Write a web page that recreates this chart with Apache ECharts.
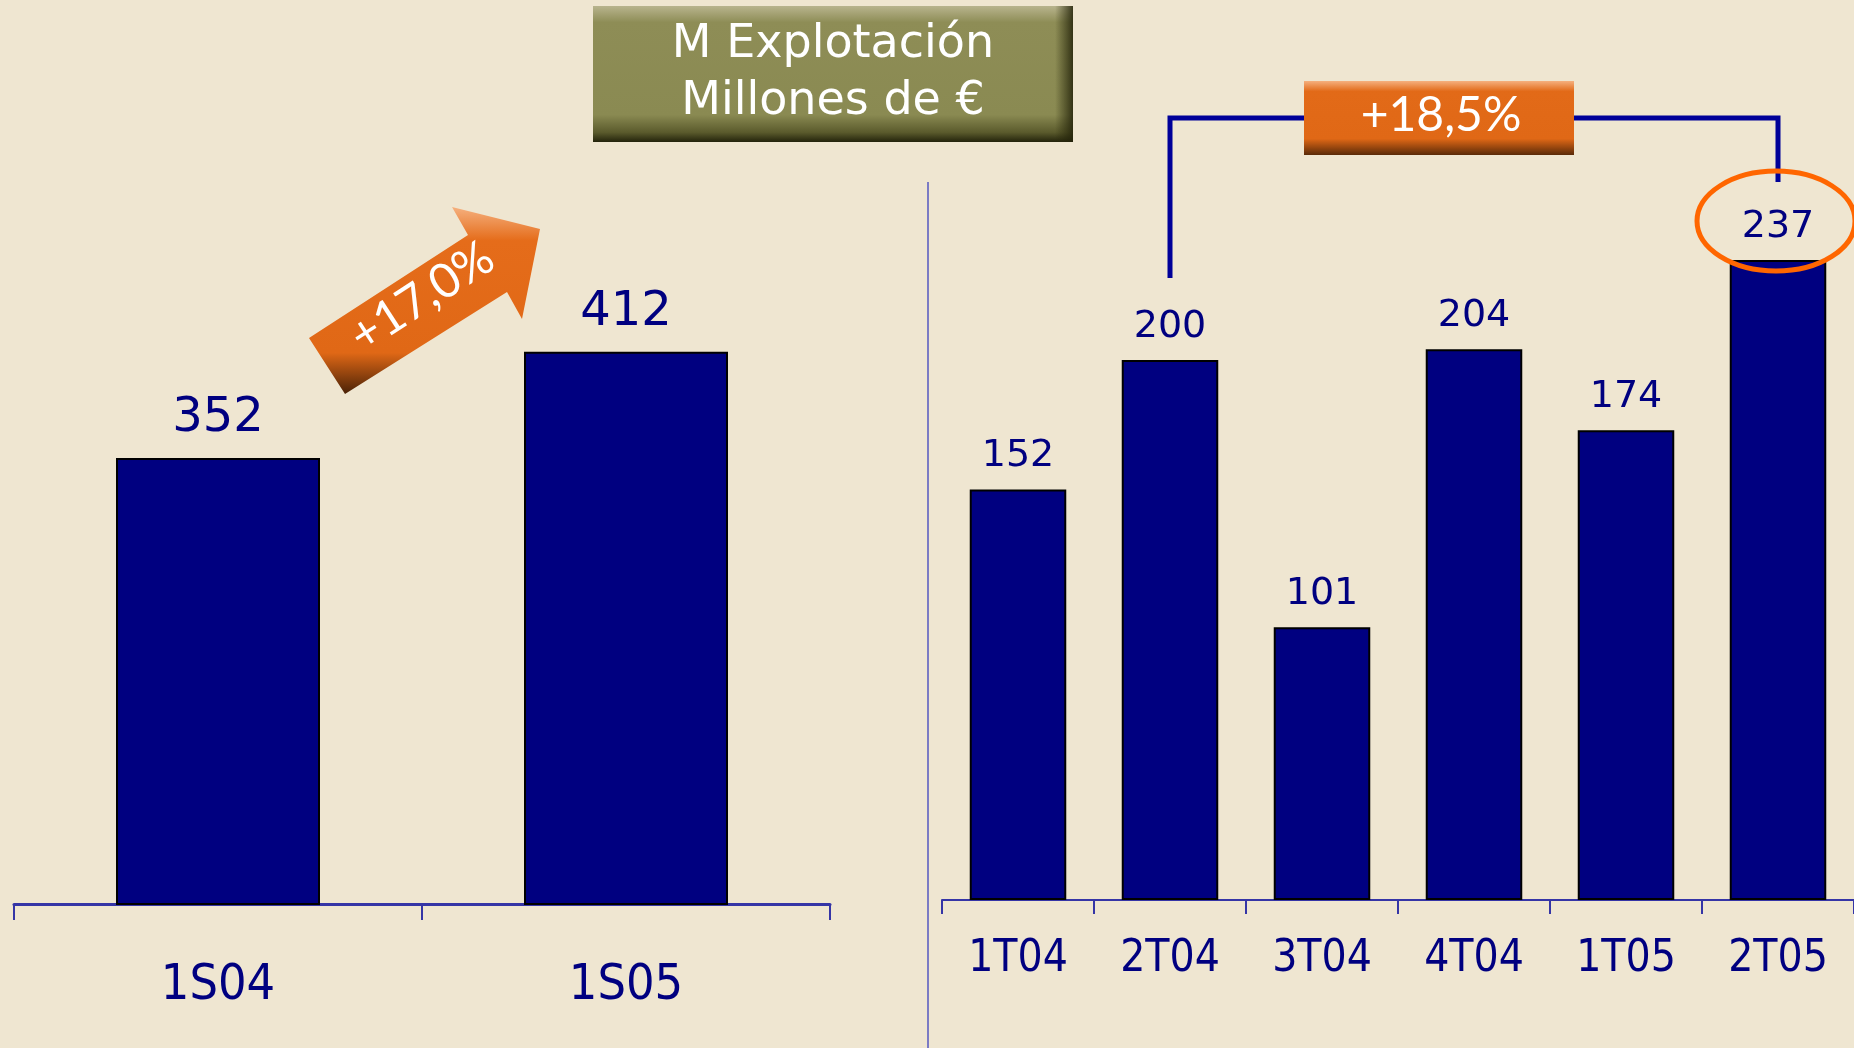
<!DOCTYPE html>
<html>
<head>
<meta charset="utf-8">
<script src="https://cdn.jsdelivr.net/npm/echarts@6/dist/echarts.min.js"></script>
<style>
html,body{margin:0;padding:0;background:#efe6d1;}
#c{width:1854px;height:1048px;}
</style>
</head>
<body>
<div id="c"></div>
<script>
// ---- data ----
var semCategories = ['1S04', '1S05'];
var semValues = [352, 412];
var qtrCategories = ['1T04', '2T04', '3T04', '4T04', '1T05', '2T05'];
var qtrValues = [152, 200, 101, 204, 174, 237];
var titleLines = ['M Explotación', 'Millones de €'];
var semGrowth = '+17,0%';
var qtrGrowth = '+18,5%';

var navy = '#000080';
var axisBlue = '#3535a6';
var labelFont = '"DejaVu Sans Condensed", "Liberation Sans Narrow", sans-serif';

var chart = echarts.init(document.getElementById('c'), null, {renderer: 'canvas'});

var option = {
  backgroundColor: '#efe6d1',
  animation: false,
  grid: [
    {left: 14, right: 1024, top: 19, bottom: 144},
    {left: 942, right: 0, top: 90, bottom: 148}
  ],
  xAxis: [
    {
      type: 'category', gridIndex: 0, data: semCategories,
      axisLine: {show: true, lineStyle: {color: axisBlue, width: 3}},
      axisTick: {show: true, inside: false, alignWithLabel: false, length: 16, lineStyle: {color: axisBlue, width: 2}},
      axisLabel: {color: navy, fontSize: 50, margin: 57, fontFamily: labelFont}
    },
    {
      type: 'category', gridIndex: 1, data: qtrCategories,
      axisLine: {show: true, lineStyle: {color: axisBlue, width: 2}},
      axisTick: {show: true, inside: false, alignWithLabel: false, length: 14, lineStyle: {color: axisBlue, width: 2}},
      axisLabel: {color: navy, fontSize: 44, margin: 38, fontFamily: labelFont}
    }
  ],
  yAxis: [
    {type: 'value', gridIndex: 0, min: 100, max: 600, show: false, splitLine: {show: false}},
    {type: 'value', gridIndex: 1, min: 0, max: 300, show: false, splitLine: {show: false}}
  ],
  series: [
    {
      type: 'bar', xAxisIndex: 0, yAxisIndex: 0, data: semValues, barWidth: '50%', clip: true,
      itemStyle: {color: navy, borderColor: '#000', borderWidth: 2},
      label: {show: true, position: 'top', distance: 15, color: navy, fontSize: 48, fontFamily: 'DejaVu Sans'}
    },
    {
      type: 'bar', xAxisIndex: 1, yAxisIndex: 1, data: qtrValues, barWidth: '63.5%',
      itemStyle: {color: navy, borderColor: '#000', borderWidth: 2},
      label: {show: true, position: 'top', distance: 14, color: navy, fontSize: 38, fontFamily: 'DejaVu Sans'}
    }
  ]
};
chart.setOption(option);

// positions of annotation anchors derived from the axes
var x2T04 = chart.convertToPixel({xAxisIndex: 1}, qtrCategories[1]);
var x2T05 = chart.convertToPixel({xAxisIndex: 1}, qtrCategories[5]);
var y2T05 = chart.convertToPixel({yAxisIndex: 1}, qtrValues[5]);

var orangeGrad = new echarts.graphic.LinearGradient(0, 0, 0, 1, [
  {offset: 0, color: '#f5b07e'},
  {offset: 0.18, color: '#e56c1a'},
  {offset: 0.78, color: '#e06816'},
  {offset: 1, color: '#4a2207'}
]);

chart.setOption({
  graphic: [
    // vertical separator
    {type: 'line', shape: {x1: 928, y1: 182, x2: 928, y2: 1048}, style: {stroke: '#7b7bc4', lineWidth: 2}, z: 5},
    // title box
    {type: 'rect', shape: {x: 593, y: 6, width: 480, height: 136}, z: 10,
     style: {fill: new echarts.graphic.LinearGradient(0, 0, 0, 1, [
       {offset: 0, color: '#b8b48e'},
       {offset: 0.12, color: '#8e8d56'},
       {offset: 0.8, color: '#8a8a52'},
       {offset: 0.93, color: '#5a5a2c'},
       {offset: 1, color: '#23230b'}
     ])}},
    {type: 'rect', shape: {x: 1055, y: 6, width: 18, height: 136}, z: 11,
     style: {fill: new echarts.graphic.LinearGradient(0, 0, 1, 0, [
       {offset: 0, color: 'rgba(40,40,10,0)'},
       {offset: 1, color: 'rgba(35,35,10,0.85)'}
     ])}},
    {type: 'text', x: 833, y: 45, z: 12,
     style: {text: titleLines[0], fill: '#ffffff', font: '46px "DejaVu Sans"', align: 'center', verticalAlign: 'middle'}},
    {type: 'text', x: 833, y: 102, z: 12,
     style: {text: titleLines[1], fill: '#ffffff', font: '46px "DejaVu Sans"', align: 'center', verticalAlign: 'middle'}},
    // growth arrow (left)
    {type: 'polygon', z: 10,
     shape: {points: [[309, 338], [468, 235], [452, 207], [540, 229], [522, 319], [507, 292], [345, 394]]},
     style: {fill: orangeGrad}},
    {type: 'text', x: 422, y: 297, rotation: 33 * Math.PI / 180, z: 12,
     style: {text: semGrowth, fill: '#ffffff', font: '48px Lato, "Open Sans", sans-serif', align: 'center', verticalAlign: 'middle'}},
    // bracket (right)
    {type: 'polyline', z: 8,
     shape: {points: [[x2T04, 278], [x2T04, 118], [x2T05, 118], [x2T05, 182]]},
     style: {stroke: '#000099', lineWidth: 5, fill: null}},
    {type: 'rect', shape: {x: 1304, y: 81, width: 270, height: 74}, z: 10,
     style: {fill: new echarts.graphic.LinearGradient(0, 0, 0, 1, [
       {offset: 0, color: '#f5b07e'},
       {offset: 0.14, color: '#e26a18'},
       {offset: 0.78, color: '#e06816'},
       {offset: 1, color: '#5a2a08'}
     ])}},
    {type: 'text', x: 1441, y: 116, z: 12,
     style: {text: qtrGrowth, fill: '#ffffff', font: '48px Lato, "Open Sans", sans-serif', align: 'center', verticalAlign: 'middle'}},
    // ellipse around last value
    {type: 'ellipse', z: 9,
     shape: {cx: x2T05 - 2, cy: y2T05 - 39, rx: 79, ry: 50},
     style: {stroke: '#ff6600', lineWidth: 5, fill: null}}
  ]
});
</script>
</body>
</html>
